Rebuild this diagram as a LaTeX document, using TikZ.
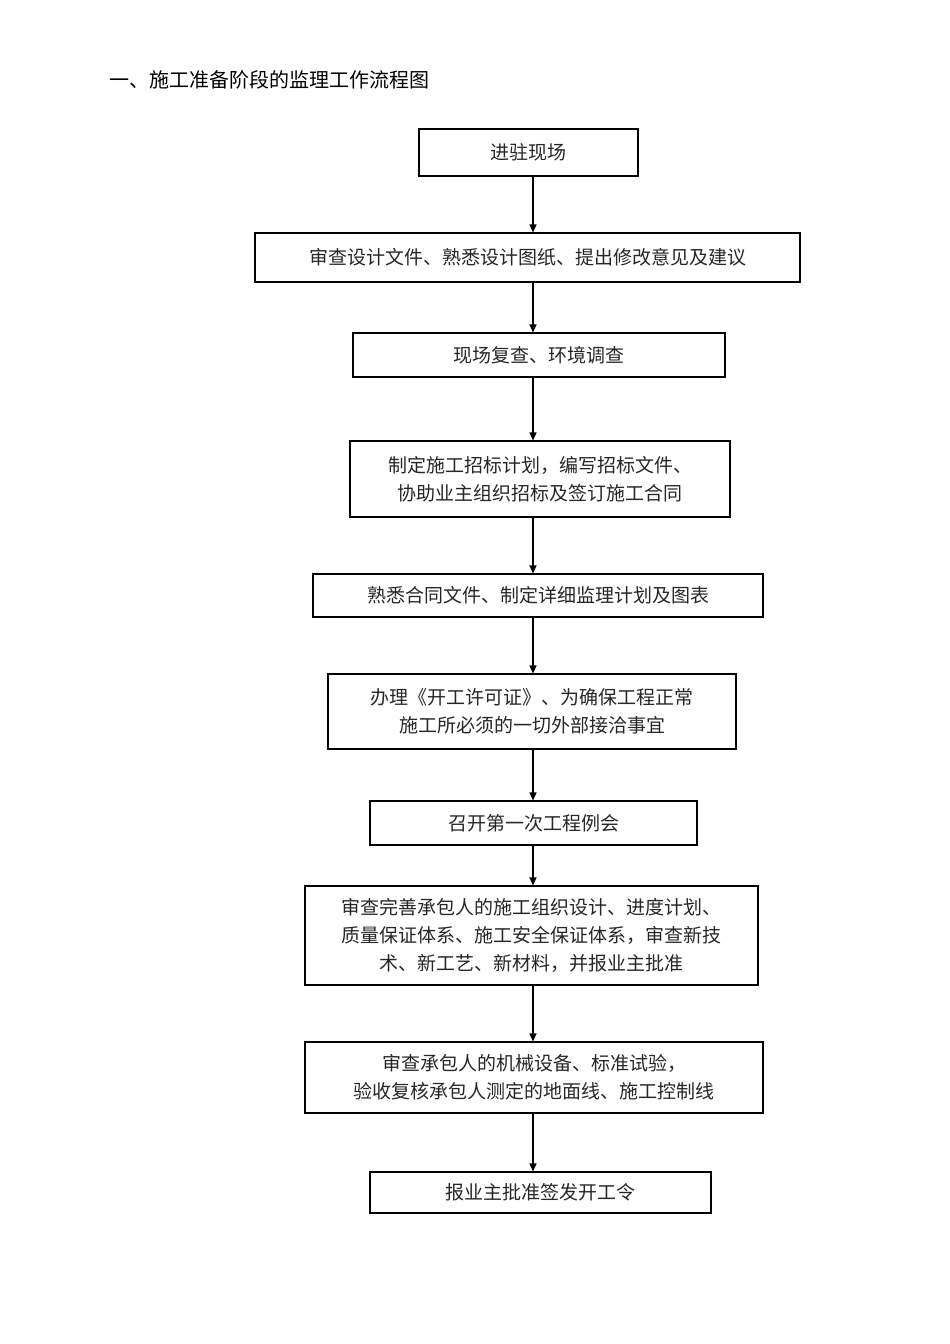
\documentclass[tikz,border=0pt]{standalone}
\usepackage{fontspec}
\setmainfont{Noto Sans CJK SC}
\usetikzlibrary{arrows.meta}
\begin{document}
\begin{tikzpicture}[x=1pt,y=-1pt,
  box/.style={draw=black,line width=1.1pt,rectangle,inner sep=0pt,align=center,font=\fontsize{19}{28}\selectfont,text=black!85},
  arr/.style={-{Triangle[length=8pt,width=7pt]},line width=1.3pt}]
\useasboundingbox (0,0) rectangle (950,1344);
\node[anchor=west,font=\fontsize{20}{24}\selectfont] (title) at (106,80) {一、施工准备阶段的监理工作流程图};
\def\bx#1#2#3#4#5#6{\node[box,minimum width={#4-#2},minimum height={#5-#3}] (#1) at ({(#2+#4)/2},{(#3+#5)/2}) {#6};}
\bx{b1}{419}{129}{638}{176}{进驻现场}
\bx{b2}{255}{233}{800}{282}{审查设计文件、熟悉设计图纸、提出修改意见及建议}
\bx{b3}{353}{333}{725}{377}{现场复查、环境调查}
\bx{b4}{350}{441}{730}{517}{制定施工招标计划，编写招标文件、\\协助业主组织招标及签订施工合同}
\bx{b5}{313}{574}{763}{617}{熟悉合同文件、制定详细监理计划及图表}
\bx{b6}{328}{674}{736}{749}{办理《开工许可证》、为确保工程正常\\施工所必须的一切外部接洽事宜}
\bx{b7}{370}{801}{697}{845}{召开第一次工程例会}
\bx{b8}{305}{886}{758}{985}{审查完善承包人的施工组织设计、进度计划、\\质量保证体系、施工安全保证体系，审查新技\\术、新工艺、新材料，并报业主批准}
\bx{b9}{305}{1042}{763}{1113}{审查承包人的机械设备、标准试验，\\验收复核承包人测定的地面线、施工控制线}
\bx{b10}{370}{1172}{711}{1213}{报业主批准签发开工令}
\foreach \a/\b in {b1/b2,b2/b3,b3/b4,b4/b5,b5/b6,b6/b7,b7/b8,b8/b9,b9/b10}
  \draw[arr] (\a.south -| 533,0) -- (\b.north -| 533,0);
\end{tikzpicture}
\end{document}
